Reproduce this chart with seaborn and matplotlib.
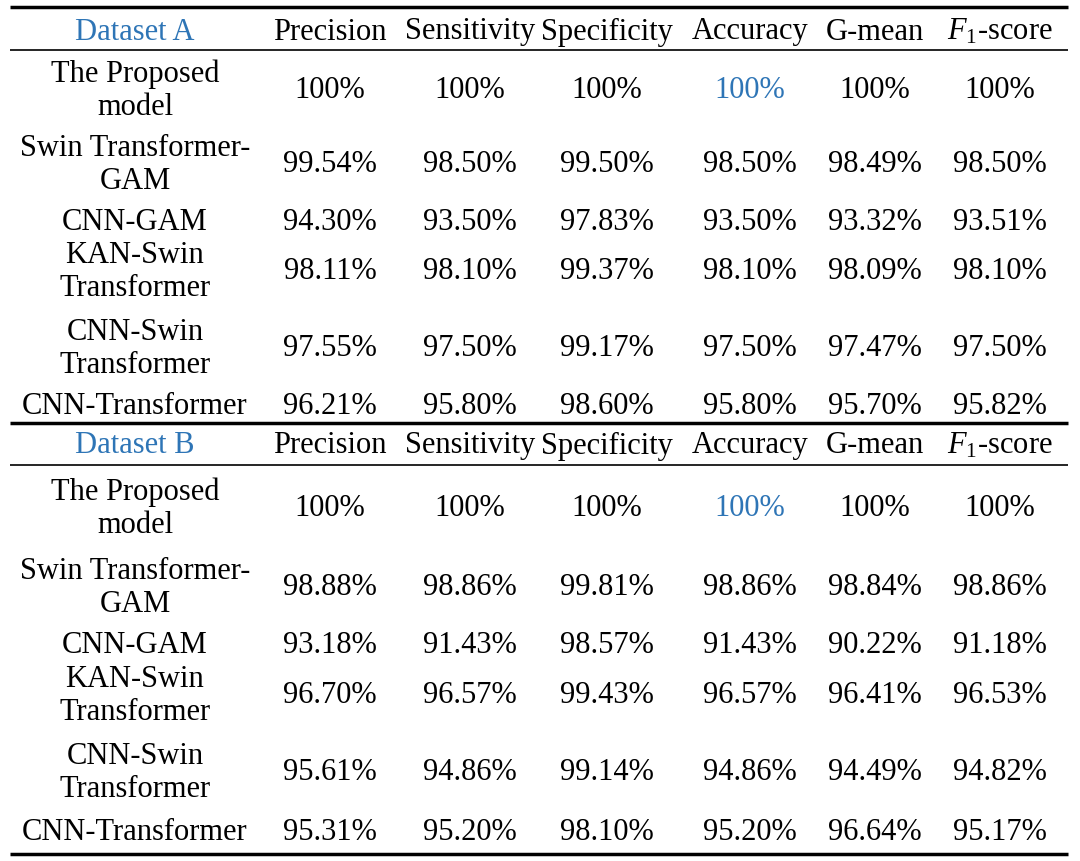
import matplotlib
matplotlib.use("Agg")
import matplotlib.pyplot as plt
import seaborn as sns

sns.set_theme(style="white")
plt.rcParams['font.family'] = ['Liberation Serif', 'DejaVu Serif']
plt.rcParams['mathtext.fontset'] = 'custom'
plt.rcParams['mathtext.it'] = 'Liberation Serif:italic'
plt.rcParams['mathtext.rm'] = 'Liberation Serif'

metrics = ["Precision", "Sensitivity", "Specificity", "Accuracy", "G-mean", r"$F_1$-score"]
models = ["The Proposed\nmodel", "Swin Transformer-\nGAM", "CNN-GAM", "KAN-Swin\nTransformer",
          "CNN-Swin\nTransformer", "CNN-Transformer"]
datasets = ["Dataset A", "Dataset B"]
values_a = [
    ["100%", "100%", "100%", "100%", "100%", "100%"],
    ["99.54%", "98.50%", "99.50%", "98.50%", "98.49%", "98.50%"],
    ["94.30%", "93.50%", "97.83%", "93.50%", "93.32%", "93.51%"],
    ["98.11%", "98.10%", "99.37%", "98.10%", "98.09%", "98.10%"],
    ["97.55%", "97.50%", "99.17%", "97.50%", "97.47%", "97.50%"],
    ["96.21%", "95.80%", "98.60%", "95.80%", "95.70%", "95.82%"],
]
values_b = [
    ["100%", "100%", "100%", "100%", "100%", "100%"],
    ["98.88%", "98.86%", "99.81%", "98.86%", "98.84%", "98.86%"],
    ["93.18%", "91.43%", "98.57%", "91.43%", "90.22%", "91.18%"],
    ["96.70%", "96.57%", "99.43%", "96.57%", "96.41%", "96.53%"],
    ["95.61%", "94.86%", "99.14%", "94.86%", "94.49%", "94.82%"],
    ["95.31%", "95.20%", "98.10%", "95.20%", "96.64%", "95.17%"],
]

BLUE = "#2E75B6"
fig = plt.figure(figsize=(10.8, 8.62), dpi=100)
ax = fig.add_axes([0, 0, 1, 1])
ax.set_xlim(0, 1080)
ax.set_ylim(862, 0)
ax.axis("off")

col_x = [135, 330, 470, 607, 750, 875, 1000]
fs = 22
blocks = [
    (datasets[0], values_a, 32, [91, 165, 223, 272, 349, 407]),
    (datasets[1], values_b, 446, [509, 588, 646, 696, 773, 833]),
]
for name, vals, hy, rows in blocks:
    ax.text(col_x[0], hy, name, ha="center", va="center", fontsize=fs, color=BLUE)
    for j, m in enumerate(metrics):
        ax.text(col_x[j + 1], hy, m, ha="center", va="center", fontsize=fs, color="black")
    for i, (mod, ry) in enumerate(zip(models, rows)):
        ax.text(col_x[0], ry, mod, ha="center", va="center", fontsize=fs,
                linespacing=1.2, color="black")
        for j, v in enumerate(vals[i]):
            c = BLUE if (i == 0 and j == 3) else "black"
            ax.text(col_x[j + 1], ry, v, ha="center", va="center", fontsize=fs, color=c)

for y, lw in [(8, 2.5), (51, 1.2), (424, 2.5), (466, 1.2), (855, 2.5)]:
    ax.plot([10, 1068], [y, y], color="black", lw=lw, solid_capstyle="butt")

fig.savefig("out.png", dpi=100)
